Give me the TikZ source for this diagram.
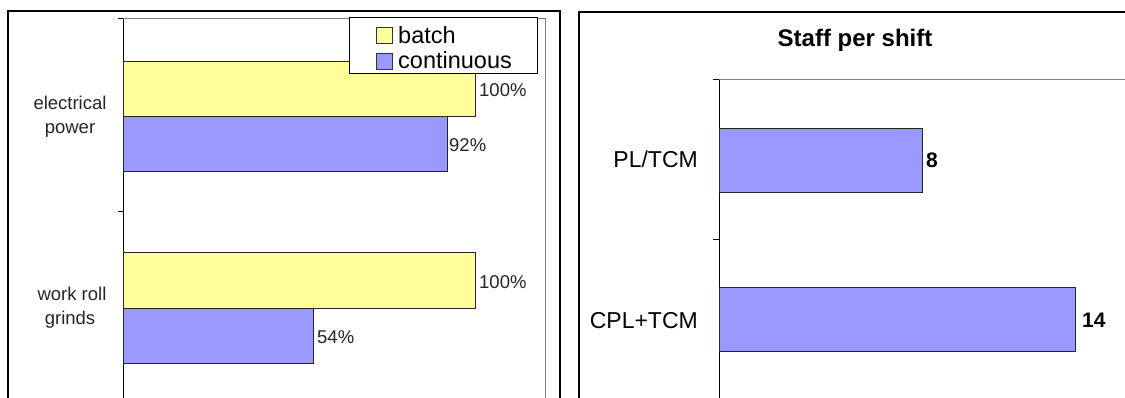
\documentclass[tikz,border=0pt]{standalone}
\usepackage{fontspec}
\setmainfont{Liberation Sans}
\definecolor{batchfill}{HTML}{FFFF99}
\definecolor{contfill}{HTML}{9999FF}
\definecolor{plotgray}{HTML}{808080}
\begin{document}
\begin{tikzpicture}[x=1pt,y=-1pt,
  frameline/.style={line width=2pt,black},
  axisline/.style={line width=1pt,black},
  gridline/.style={line width=1pt,plotgray},
  barbox/.style={draw=black!85,line width=0.9pt},
  smalltxt/.style={inner sep=0pt,text=black!85,font=\fontsize{18.5}{23.5}\selectfont},
  legtxt/.style={inner sep=0pt,anchor=base west,font=\fontsize{23.5}{26}\selectfont},
  cattxt/.style={inner sep=0pt,anchor=base east,font=\fontsize{23}{26}\selectfont},
  valtxt/.style={inner sep=0pt,anchor=base west,font=\bfseries\fontsize{21}{24}\selectfont},
]
\useasboundingbox (0,0) rectangle (1125,398);
\fill[white] (0,0) rectangle (1125,398);

% ---------- left chart: energy and grinds ----------
\draw[frameline] (7.5,400) -- (7.5,11) -- (560,11) -- (560,400);
% plot area
\draw[gridline] (123,19) -- (545,19) -- (545,400);
\draw[axisline] (123,19) -- (123,400);
\draw[axisline] (118,19) -- (123,19);
\draw[axisline] (118,212) -- (123,212);

% bars (axis at x=123, 100% = 352)
\draw[barbox,fill=batchfill] (123,61)  rectangle (475,116);
\draw[barbox,fill=contfill]  (123,116) rectangle (447,171);
\draw[barbox,fill=batchfill] (123,252) rectangle (475,308);
\draw[barbox,fill=contfill]  (123,308) rectangle (313,363);

% value labels
\node[smalltxt,anchor=base west] (v1) at (479,96.6)  {100\%};
\node[smalltxt,anchor=base west] (v2) at (449,151.6) {92\%};
\node[smalltxt,anchor=base west] (v3) at (479,288.6) {100\%};
\node[smalltxt,anchor=base west] (v4) at (317,343.6) {54\%};

% category labels
\node[smalltxt,anchor=base] (c1a) at (70,110) {electrical};
\node[smalltxt,anchor=base] (c1b) at (70,134) {power};
\node[smalltxt,anchor=base] (c2a) at (72,301) {work roll};
\node[smalltxt,anchor=base] (c2b) at (70,324) {grinds};

% legend
\draw[line width=1pt,black,fill=white] (349,18) rectangle (537,74);
\draw[line width=0.8pt,black!80,fill=batchfill] (376,27) rectangle (392,43);
\draw[line width=0.8pt,black!80,fill=contfill]  (376,53) rectangle (392,69);
\node[legtxt] (lg1) at (398,43.3) {batch};
\node[legtxt] (lg2) at (398,68.5) {continuous};

% ---------- right chart: staff per shift ----------
\draw[frameline] (579,400) -- (579,12) -- (1127,12);
\node[inner sep=0pt,anchor=base,font=\bfseries\fontsize{24}{28}\selectfont] (title) at (855,46.7) {Staff per shift};
\draw[gridline] (719,80) -- (1127,80);
\draw[axisline] (719,80) -- (719,400);
\draw[axisline] (713,80) -- (719,80);
\draw[axisline] (713,239.5) -- (719,239.5);

% bars (axis at x=719, 1 person = 25.4)
\draw[barbox,fill=contfill] (719,128) rectangle (922,192);
\draw[barbox,fill=contfill] (719,287.5) rectangle (1075,351.5);

\node[cattxt] (k1) at (698,168) {PL/TCM};
\node[cattxt] (k2) at (698,328) {CPL+TCM};
\node[valtxt] (n1) at (926,168) {8};
\node[valtxt] (n2) at (1082,327.5) {14};
\end{tikzpicture}
\end{document}
